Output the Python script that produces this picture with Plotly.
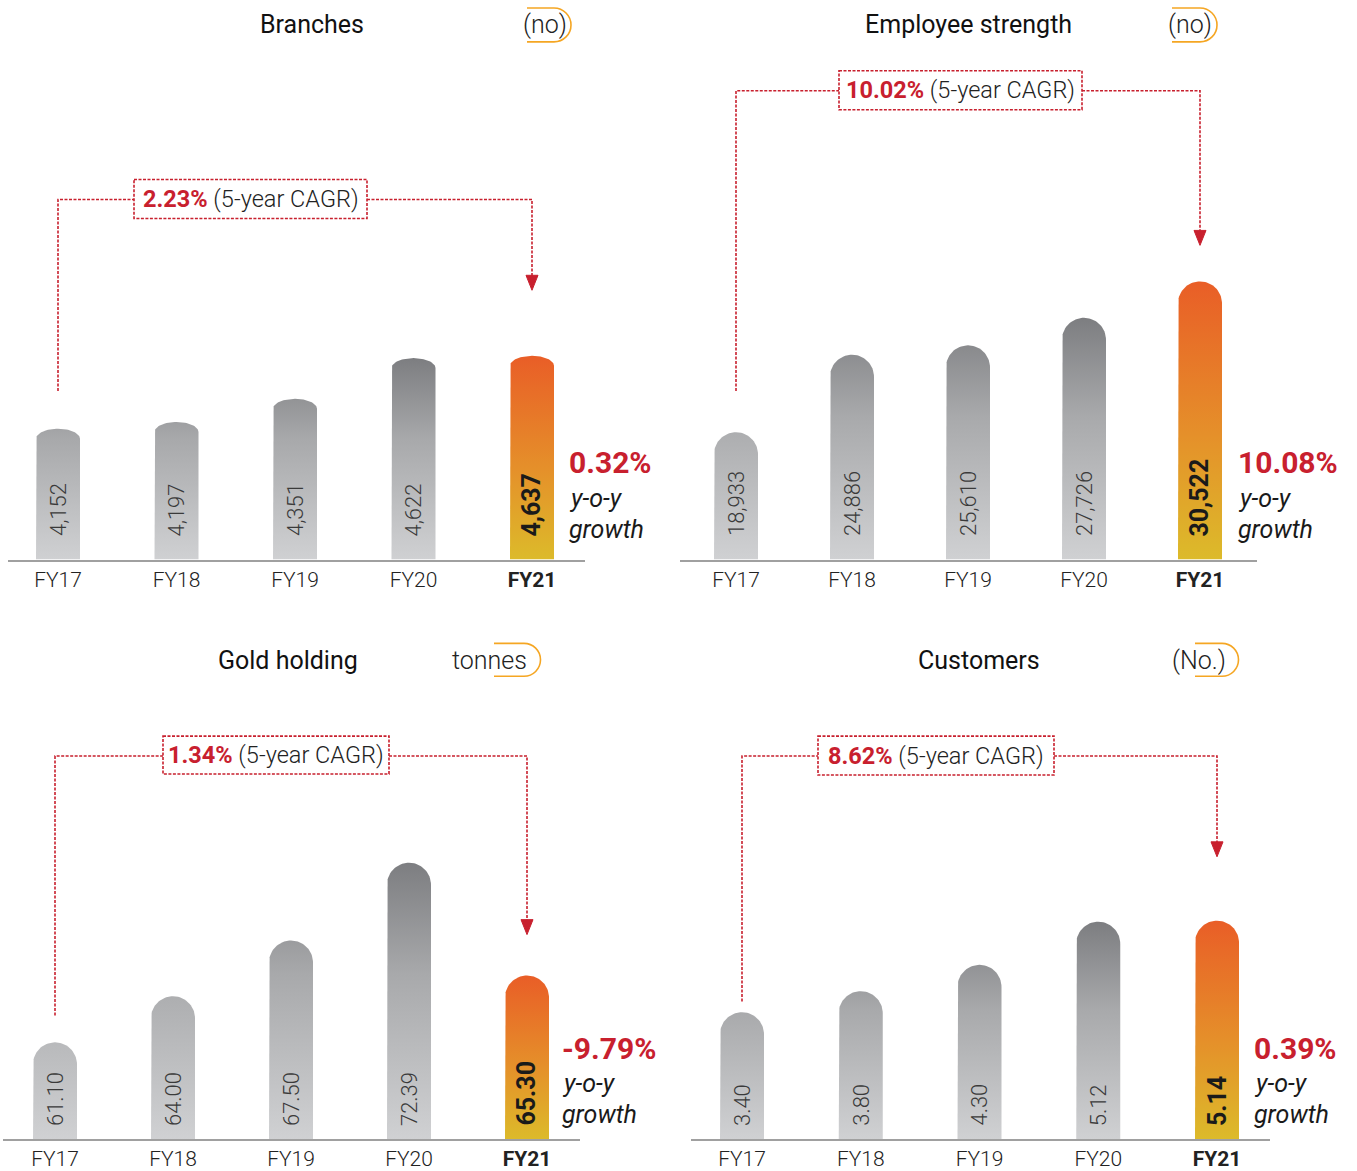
import math
import plotly.graph_objects as go

W, H = 1357, 1171

# ---------------- data ----------------
years = ["FY17", "FY18", "FY19", "FY20", "FY21"]
branches = [4152, 4197, 4351, 4622, 4637]
employees = [18933, 24886, 25610, 27726, 30522]
gold_tonnes = [61.10, 64.00, 67.50, 72.39, 65.30]
customers_mn = [3.40, 3.80, 4.30, 5.12, 5.14]

titles = ["Branches", "Employee strength", "Gold holding", "Customers"]
units = ["(no)", "(no)", "tonnes", "(No.)"]
cagr = ["2.23%", "10.02%", "1.34%", "8.62%"]
yoy = ["0.32%", "10.08%", "-9.79%", "0.39%"]

# ---------------- styles ----------------
RED = "#c8202e"
BADGE = "#f5a623"
FONT = "Roboto"
GREY_SCALE = [[0, "#d0d1d3"], [0.6, "#a8a9ab"], [1, "#7d7e81"]]
HI_SCALE = [[0, "#dcbb2a"], [0.45, "#e5902a"], [1, "#e95e27"]]

# panel geometry (pixels) -- layout only
panels = [
    dict(values=branches, fmt="{:,.0f}", x0=8, x1=585, c0=58, step=118.5,
         base_px=561, top_px=60, yrange=[3282, 6606], cap=10, lab_gap=21,
         title=(312, 25), unit=(545, 25), badge=(527, 554, 8, 42),
         box=(134, 367, 180, 219), line_y=200, left_end=392, arrow_tip=291,
         yoy_x=567, yoy_y=(464, 500, 531)),
    dict(values=employees, fmt="{:,.0f}", x0=680, x1=1257, c0=736, step=116,
         base_px=561, top_px=60, yrange=[9148, 47548], cap=None, lab_gap=21,
         title=(968, 25), unit=(1190, 25), badge=(1172, 1200, 8, 42),
         box=(839, 1082, 71, 110), line_y=91, left_end=392, arrow_tip=246,
         yoy_x=1236, yoy_y=(464, 500, 531)),
    dict(values=gold_tonnes, fmt="{:.2f}", x0=3, x1=580, c0=55, step=118,
         base_px=1142, top_px=641, yrange=[55.02, 86.43], cap=None, lab_gap=11,
         title=(288, 662), unit=(489, 662), badge=(494, 524, 645, 678),
         box=(163, 389, 738, 776), line_y=758, left_end=1018, arrow_tip=937,
         yoy_x=560, yoy_y=(1051, 1086, 1117)),
    dict(values=customers_mn, fmt="{:.2f}", x0=691, x1=1270, c0=742, step=118.75,
         base_px=1142, top_px=641, yrange=[0.991, 10.483], cap=None, lab_gap=11,
         title=(979, 662), unit=(1199, 662), badge=(1195, 1222, 645, 678),
         box=(818, 1054, 738, 777), line_y=758, left_end=1004, arrow_tip=859,
         yoy_x=1252, yoy_y=(1051, 1086, 1117)),
]
BAR_PX = 44


def fx(px):
    return px / W


def fy(py):
    return 1 - py / H


fig = go.Figure()
shapes = []
annotations = []

for p_i, p in enumerate(panels):
    n = p_i + 1
    xa = "x" if n == 1 else f"x{n}"
    ya = "y" if n == 1 else f"y{n}"
    xr = [(p["x0"] - p["c0"]) / p["step"], (p["x1"] - p["c0"]) / p["step"]]
    y_lo, y_hi = p["yrange"]
    k = (p["base_px"] - p["top_px"]) / (y_hi - y_lo)  # px per unit
    half = BAR_PX / 2 / p["step"]
    rx = half
    cap_px = p["cap"] if p["cap"] else BAR_PX / 2
    ry = cap_px / k
    vals = p["values"]
    for i, v in enumerate(vals):
        xs = [i - half, i - half]
        ys = [y_lo, v - ry]
        for j in range(0, 41):
            t = math.pi - math.pi * j / 40
            xs.append(i + rx * math.cos(t))
            ys.append(v - ry + ry * math.sin(t))
        xs += [i + half, i - half]
        ys += [y_lo, y_lo]
        last = i == len(vals) - 1
        grey_stop = max(vals[:-1])
        fig.add_trace(go.Scatter(
            x=xs, y=ys, mode="lines", fill="toself",
            line=dict(width=0, color="rgba(0,0,0,0)"),
            fillgradient=dict(type="vertical",
                              colorscale=HI_SCALE if last else GREY_SCALE,
                              start=y_lo, stop=v if last else grey_stop),
            hoverinfo="skip", showlegend=False, xaxis=xa, yaxis=ya))
        annotations.append(dict(
            x=i, y=y_lo, xref=xa, yref=ya,
            text=(f"<b>{p['fmt'].format(v)}</b>" if last else p["fmt"].format(v)),
            showarrow=False, textangle=-90, xanchor="center", yanchor="bottom",
            yshift=p["lab_gap"],
            font=dict(family=FONT, size=25 if last else 22,
                      color="#1a1a1a" if last else "#3a3a3a",
                      weight=400 if last else 300)))

    ticktext = [f"<b>{y}</b>" if y == years[-1] else y for y in years]
    fig.update_layout(**{
        ("xaxis" if n == 1 else f"xaxis{n}"): dict(
            domain=[fx(p["x0"]), fx(p["x1"])], range=xr, anchor=ya,
            tickvals=list(range(len(years))), ticktext=ticktext,
            showgrid=False, zeroline=False, showline=True, linecolor="#a0a0a0",
            linewidth=1.5, ticks="", fixedrange=True,
            tickfont=dict(family=FONT, size=21, color="#222222", weight=300)),
        ("yaxis" if n == 1 else f"yaxis{n}"): dict(
            domain=[fy(p["base_px"]), fy(p["top_px"])], range=[y_lo, y_hi],
            anchor=xa, visible=False, fixedrange=True),
    })

    # title and unit badge
    tx, ty = p["title"]
    annotations.append(dict(x=fx(tx), y=fy(ty), xref="paper", yref="paper",
                            text=titles[p_i], showarrow=False, xanchor="center",
                            yanchor="middle",
                            font=dict(family=FONT, size=25, color="#111111")))
    ux, uy = p["unit"]
    annotations.append(dict(x=fx(ux), y=fy(uy), xref="paper", yref="paper",
                            text=units[p_i], showarrow=False, xanchor="center",
                            yanchor="middle",
                            font=dict(family=FONT, size=25, color="#222222", weight=300)))
    bs, bc, bt, bb = p["badge"]
    r = (bb - bt) / 2
    ym = (bt + bb) / 2
    kk = 0.5523
    path = (f"M {fx(bs)},{fy(bt)} L {fx(bc)},{fy(bt)} "
            f"C {fx(bc + kk * r)},{fy(bt)} {fx(bc + r)},{fy(ym - kk * r)} {fx(bc + r)},{fy(ym)} "
            f"C {fx(bc + r)},{fy(ym + kk * r)} {fx(bc + kk * r)},{fy(bb)} {fx(bc)},{fy(bb)} "
            f"L {fx(bs)},{fy(bb)}")
    shapes.append(dict(type="path", path=path, xref="paper", yref="paper",
                       line=dict(color=BADGE, width=1.6)))

    # CAGR box and connectors
    b0, b1, by0, by1 = p["box"]
    shapes.append(dict(type="rect", xref="paper", yref="paper",
                       x0=fx(b0), x1=fx(b1), y0=fy(by0), y1=fy(by1),
                       line=dict(color=RED, width=1.6, dash="3px,1.5px")))
    annotations.append(dict(x=fx((b0 + b1) / 2), y=fy((by0 + by1) / 2), xref="paper",
                            yref="paper", showarrow=False, xanchor="center", yanchor="middle",
                            text=f"<span style='color:{RED}'><b>{cagr[p_i]}</b></span> (5-year CAGR)",
                            font=dict(family=FONT, size=23.5, color="#222222", weight=300)))
    lx = p["c0"]
    rxp = p["c0"] + 4 * p["step"]
    ly = p["line_y"]
    shapes.append(dict(type="path", xref="paper", yref="paper",
                       path=f"M {fx(lx)},{fy(p['left_end'])} L {fx(lx)},{fy(ly)} L {fx(b0)},{fy(ly)}",
                       line=dict(color=RED, width=1.6, dash="3px,1.5px")))
    tip = p["arrow_tip"]
    shapes.append(dict(type="path", xref="paper", yref="paper",
                       path=f"M {fx(b1)},{fy(ly)} L {fx(rxp)},{fy(ly)} L {fx(rxp)},{fy(tip - 12)}",
                       line=dict(color=RED, width=1.6, dash="3px,1.5px")))
    shapes.append(dict(type="path", xref="paper", yref="paper",
                       path=f"M {fx(rxp - 6)},{fy(tip - 15)} L {fx(rxp + 6)},{fy(tip - 15)} L {fx(rxp)},{fy(tip)} Z",
                       fillcolor=RED, line=dict(color=RED, width=1)))

    # y-o-y growth text
    yx = p["yoy_x"]
    y1, y2, y3 = p["yoy_y"]
    annotations.append(dict(x=fx(yx), y=fy(y1), xref="paper", yref="paper",
                            text=f"<b>{yoy[p_i]}</b>", showarrow=False, xanchor="left",
                            yanchor="middle", font=dict(family=FONT, size=30, color=RED)))
    annotations.append(dict(x=fx(yx), y=fy(y2), xref="paper", yref="paper",
                            text="<i>y-o-y</i>", showarrow=False, xanchor="left",
                            yanchor="middle", font=dict(family=FONT, size=25, color="#1a1a1a")))
    annotations.append(dict(x=fx(yx), y=fy(y3), xref="paper", yref="paper",
                            text="<i>growth</i>", showarrow=False, xanchor="left",
                            yanchor="middle", font=dict(family=FONT, size=25, color="#1a1a1a")))

fig.update_layout(width=W, height=H, margin=dict(l=0, r=0, t=0, b=0),
                  paper_bgcolor="white", plot_bgcolor="white", showlegend=False,
                  shapes=shapes, annotations=annotations,
                  font=dict(family=FONT))

fig.write_html("out.html")
